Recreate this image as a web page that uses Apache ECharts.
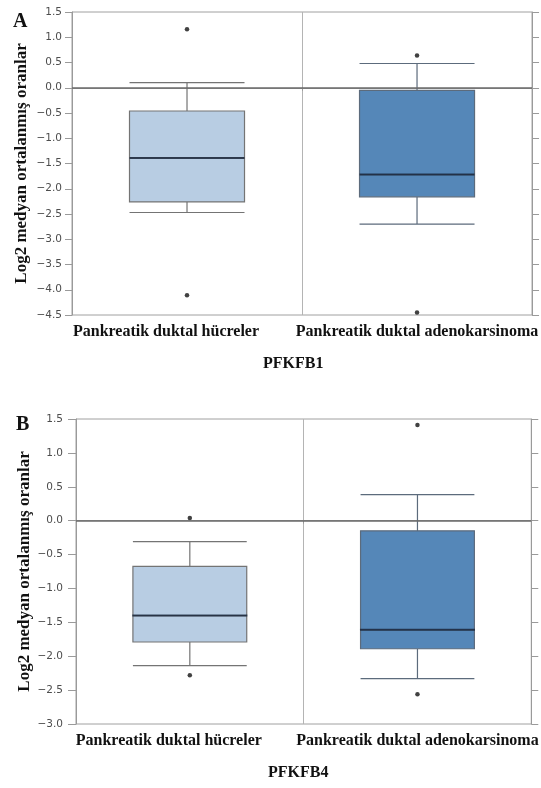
<!DOCTYPE html>
<html>
<head>
<meta charset="utf-8">
<script src="https://cdn.jsdelivr.net/npm/echarts@6/dist/echarts.min.js"></script>
<style>html,body{margin:0;padding:0;background:#fff;}#c{width:541px;height:788px;}</style>
</head>
<body>
<div id="c"></div>
<script>
// ---- data ----
const categories = ['Pankreatik duktal hücreler', 'Pankreatik duktal adenokarsinoma'];
// [min whisker, Q1, median, Q3, max whisker]
const boxA = [[-2.47, -2.26, -1.39, -0.46, 0.10], [-2.70, -2.16, -1.72, -0.05, 0.48]];
const outliersA = [[0, 1.16], [0, -4.11], [1, 0.64], [1, -4.45]];
const boxB = [[-2.14, -1.79, -1.40, -0.675, -0.31], [-2.33, -1.89, -1.61, -0.15, 0.385]];
const outliersB = [[0, 0.04], [0, -2.28], [1, 1.41], [1, -2.56]];
const yRangeA = [-4.5, 1.5];
const yRangeB = [-3.0, 1.5];
const yStep = 0.5;
const geneNames = ['PFKFB1', 'PFKFB4'];
const panelLetters = ['A', 'B'];
const yName = 'Log2 medyan ortalanmış oranlar';

// ---- styles ----
const serif = '"Liberation Serif", "Times New Roman", serif';
const boxFill = ['#b8cde3', '#5587b8'];
const boxBorder = ['#747474', '#5c6b7c'];
const fmtTick = v => v.toFixed(1).replace('-', '\u2212');

const grids = [
  { left: 72, top: 12, width: 461, height: 303, show: true, borderColor: '#a0a0a0', borderWidth: 1 },
  { left: 76, top: 419, width: 458, height: 305, show: true, borderColor: '#a0a0a0', borderWidth: 1 }
];

function xAxisFor(gi) {
  return {
    type: 'category', gridIndex: gi, data: categories,
    axisLine: { lineStyle: { color: '#9a9a9a' } },
    axisTick: { show: true, length: 3, lineStyle: { color: '#9a9a9a' } },
    splitLine: { show: true, lineStyle: { color: '#b4b4b4', width: 1 } },
    axisLabel: {
      interval: 0, margin: 9, color: '#111',
      formatter: (v, i) => (i === 0 ? '{l|' + v + '}' : '{n|' + v + '}'),
      rich: {
        l: { fontFamily: serif, fontWeight: 'bold', fontSize: 16, color: '#111', padding: [0, 42, 0, 0] },
        n: { fontFamily: serif, fontWeight: 'bold', fontSize: 16, color: '#111' }
      }
    }
  };
}
function yAxisFor(gi, range, tickLen, margin, gap) {
  return {
    type: 'value', gridIndex: gi, min: range[0], max: range[1], interval: yStep,
    name: yName, nameLocation: 'middle', nameGap: gap, nameMoveOverlap: false,
    nameTextStyle: { fontFamily: serif, fontWeight: 'bold', fontSize: 17, color: '#111' },
    axisLine: { show: true, lineStyle: { color: '#9a9a9a' } },
    axisTick: { show: true, length: tickLen, lineStyle: { color: '#9a9a9a' } },
    splitLine: { show: false },
    axisLabel: { margin: margin, color: '#4d4d4d', fontFamily: 'DejaVu Sans', fontSize: 10.5, formatter: fmtTick }
  };
}
function yRightFor(gi, range) {
  return {
    type: 'value', gridIndex: gi, position: 'right', min: range[0], max: range[1], interval: yStep,
    axisLine: { show: true, lineStyle: { color: '#9a9a9a' } },
    axisTick: { show: true, length: 7, lineStyle: { color: '#9a9a9a' } },
    axisLabel: { show: false }, splitLine: { show: false }
  };
}

function panelSeries(gi, boxes, outliers) {
  return [
    {
      type: 'boxplot', xAxisIndex: gi, yAxisIndex: gi * 2, boxWidth: ['50%', '50%'],
      data: boxes.map((b, i) => ({ value: b, itemStyle: { color: boxFill[i], borderColor: boxBorder[i], borderWidth: 1.2 } })),
      markLine: {
        silent: true, symbol: 'none', label: { show: false },
        lineStyle: { color: '#6a6a6a', width: 1.5, type: 'solid' },
        data: [{ yAxis: 0 }]
      },
      z: 2
    },
    {
      type: 'scatter', xAxisIndex: gi, yAxisIndex: gi * 2, symbol: 'rect', symbolSize: [115, 2],
      itemStyle: { color: '#15233a' },
      data: boxes.map((b, i) => [i, b[2]]), z: 4
    },
    {
      type: 'scatter', xAxisIndex: gi, yAxisIndex: gi * 2, symbol: 'circle', symbolSize: 4.5,
      itemStyle: { color: '#111' }, data: outliers, z: 4
    }
  ];
}

const chart = echarts.init(document.getElementById('c'), null, { renderer: 'canvas' });
chart.setOption({
  animation: false,
  backgroundColor: '#fff',
  title: [
    { text: geneNames[0], left: 263, top: 356, textStyle: { fontFamily: serif, fontWeight: 'bold', fontSize: 16, color: '#111' }, padding: 0 },
    { text: geneNames[1], left: 268, top: 765, textStyle: { fontFamily: serif, fontWeight: 'bold', fontSize: 16, color: '#111' }, padding: 0 }
  ],
  graphic: [
    { type: 'text', left: 13, top: 12, style: { text: panelLetters[0], font: 'bold 20px ' + serif, fill: '#111' } },
    { type: 'text', left: 16, top: 415, style: { text: panelLetters[1], font: 'bold 20px ' + serif, fill: '#111' } }
  ],
  grid: grids,
  xAxis: [xAxisFor(0), xAxisFor(1)],
  yAxis: [yAxisFor(0, yRangeA, 7, 10, 42), yRightFor(0, yRangeA), yAxisFor(1, yRangeB, 8, 13, 43), yRightFor(1, yRangeB)],
  series: [...panelSeries(0, boxA, outliersA), ...panelSeries(1, boxB, outliersB)]
});
</script>
</body>
</html>
